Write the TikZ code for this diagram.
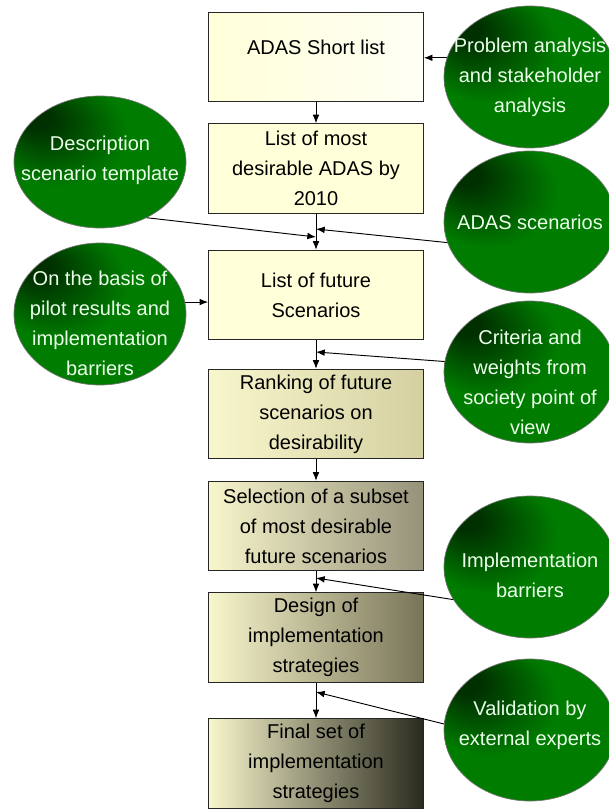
\documentclass[tikz,border=0pt]{standalone}
\usepackage{fontspec}
\setmainfont{Liberation Sans}
\usepackage{tikz}
\usetikzlibrary{arrows.meta,shapes.geometric}

\definecolor{ovaldark}{HTML}{003000}
\definecolor{ovalgreen}{HTML}{007C00}
\definecolor{boxlight}{HTML}{FFFFD9}
\definecolor{boxpale}{HTML}{F8F6CC}
\definecolor{boxtan}{HTML}{D4D0A2}
\definecolor{boxgrey}{HTML}{96927A}
\definecolor{boxolive}{HTML}{787458}
\definecolor{boxdark}{HTML}{2A2A1E}
\pgfdeclareradialshading{greenoval}{\pgfpoint{-20bp}{18bp}}{color(0bp)=(ovaldark); color(4bp)=(ovaldark); color(20bp)=(ovalgreen); color(50bp)=(ovalgreen)}

\begin{document}
\begin{tikzpicture}[x=0.75pt,y=-0.75pt,>={Latex[length=6.5pt,width=5pt]},
  stepbox/.style={draw=black!85,line width=0.7pt,minimum width=161pt,minimum height=67pt,inner sep=0pt,align=center,font=\fontsize{15}{22.5}\selectfont},
  oval/.style={ellipse,draw=black!55,line width=0.5pt,shading=greenoval,minimum width=129pt,minimum height=106.5pt,inner sep=0pt},
  ovaltext/.style={align=center,inner sep=0pt,text=white!92!green,font=\fontsize{15}{22.5}\selectfont},
  link/.style={->,line width=0.7pt}]
\useasboundingbox (0,0) rectangle (609,809);
% main chain
\node[stepbox,left color=boxlight,right color=white!96!yellow,text depth=14pt] (b1) at (316,57) {ADAS Short list};
\node[stepbox,fill=boxlight] (b2) at (316,168.5) {List of most\\desirable ADAS by\\2010};
\node[stepbox,fill=boxlight] (b3) at (316,295) {List of future\\Scenarios};
\node[stepbox,left color=boxpale,right color=boxtan] (b4) at (316,414) {Ranking of future\\scenarios on\\desirability};
\node[stepbox,left color=boxpale,middle color=boxtan!80!boxpale,right color=boxgrey] (b5) at (316,526) {Selection of a subset\\of most desirable\\future scenarios};
\node[stepbox,left color=boxpale,middle color=boxtan,right color=boxolive] (b6) at (316,637.5) {Design of\\implementation\\strategies};
\node[stepbox,left color=boxpale,middle color=boxgrey!80!boxpale,right color=boxdark] (b7) at (316,763.5) {Final set of\\implementation\\strategies};
% inputs
\node[oval] (e1) at (530,77) {};
\node[oval] (e2) at (530,222) {};
\node[oval,minimum height=99pt] (e3) at (100,162) {};
\node[oval] (e4) at (100,314) {};
\node[oval] (e5) at (530,372) {};
\node[oval] (e6) at (530,567) {};
\node[oval] (e7) at (530,730) {};
\node[ovaltext] (t1) at (e1) {Problem analysis\\and stakeholder\\analysis};
\node[ovaltext] (t2) at (e2) {ADAS scenarios};
\node[ovaltext] (t3) at (100,160) {Description\\scenario template};
\node[ovaltext] (t4) at (100,323) {On the basis of\\pilot results and\\implementation\\barriers};
\node[ovaltext] (t5) at (530,382) {Criteria and\\weights from\\society point of\\view};
\node[ovaltext] (t6) at (530,575) {Implementation\\barriers};
\node[ovaltext] (t7) at (530,725) {Validation by\\external experts};
% junction points
\coordinate (j2) at (316,229);
\coordinate (j3) at (316,237);
\coordinate (j5) at (316,352);
\coordinate (j6) at (316,578);
\coordinate (j7) at (316,692);
\draw[link] (b1) -- (b2);
\draw[link] (b2) -- (b3);
\draw[link] (b3) -- (b4);
\draw[link] (b4) -- (b5);
\draw[link] (b5) -- (b6);
\draw[link] (b6) -- (b7);
\draw[link] (e1.167) -- (e1.167 -| b1.east);
\draw[link] (e2.194) -- (j2);
\draw[link] (e3.-50) -- (j3);
\draw[link] (e4.8) -- (e4.8 -| b3.west);
\draw[link] (e5.173) -- (j5);
\draw[link] (e6.203) -- (j6);
\draw[link] (e7.176) -- (j7);
\end{tikzpicture}
\end{document}
